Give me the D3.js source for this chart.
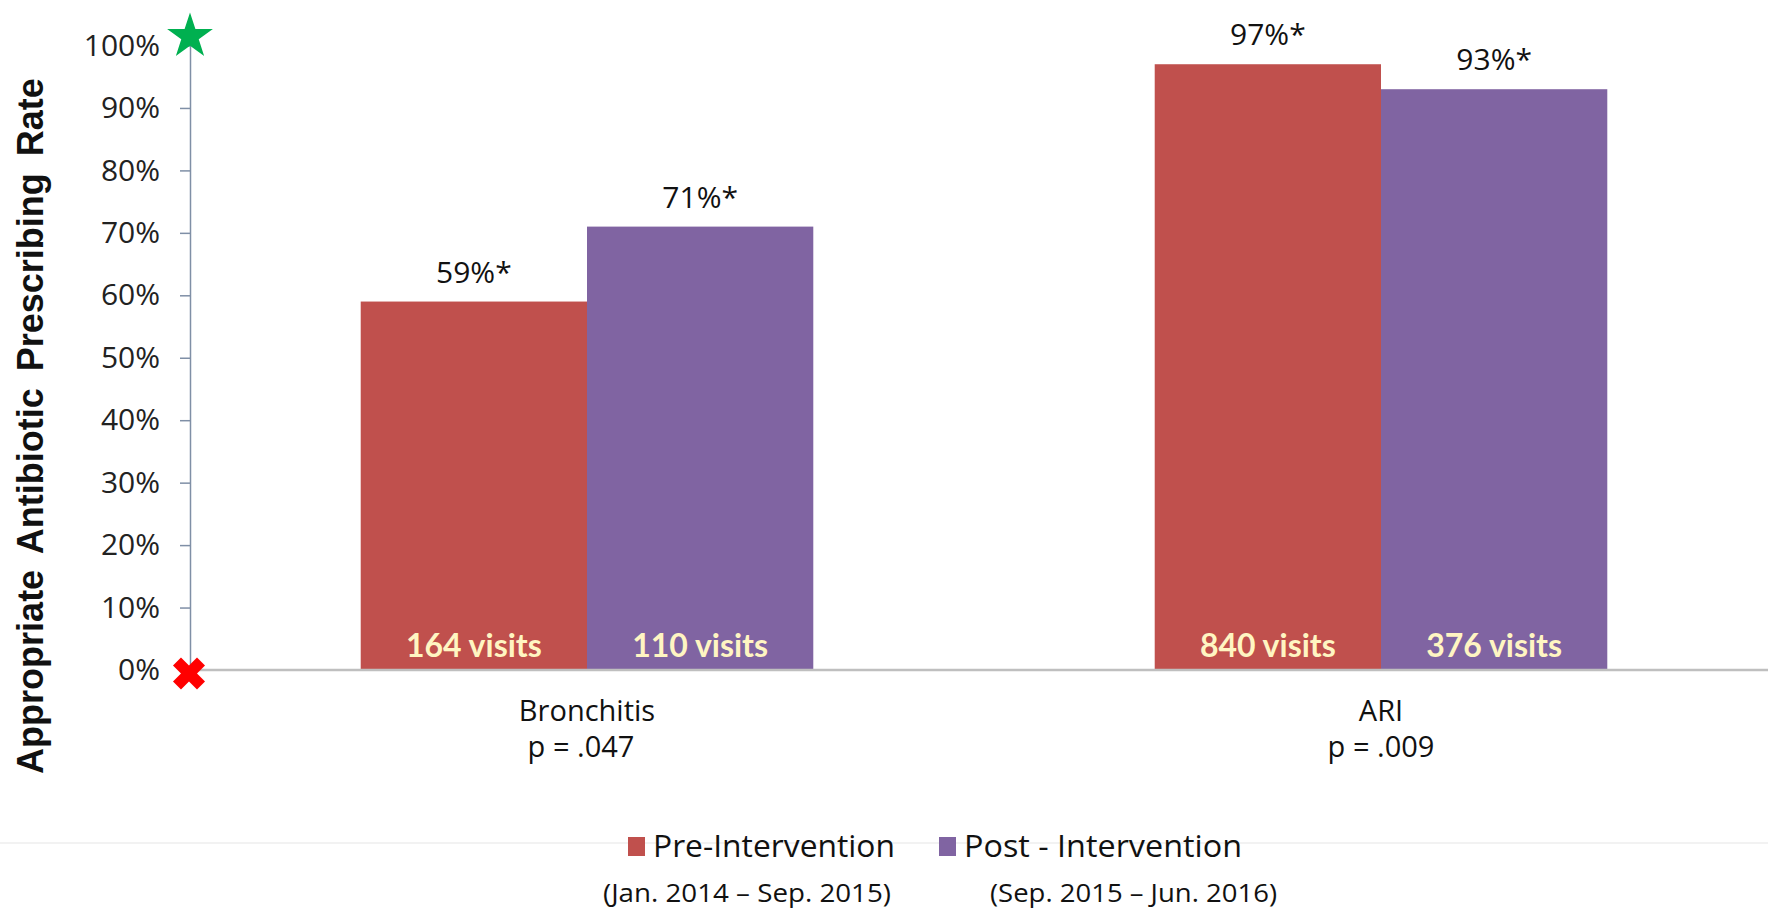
<!DOCTYPE html>
<html>
<head>
<meta charset="utf-8">
<script src="https://cdn.jsdelivr.net/npm/d3@7/dist/d3.min.js"></script>
<style>
  html, body { margin: 0; padding: 0; background: #ffffff; }
  svg { display: block; }
</style>
</head>
<body>
<svg id="chart" width="1768" height="911"></svg>
<script>
// ---- data ----
const categories = ["Bronchitis", "ARI"];
const pValues = ["p = .047", "p = .009"];
const seriesNames = ["Pre-Intervention", "Post - Intervention"];
const seriesPeriods = ["(Jan. 2014 \u2013 Sep. 2015)", "(Sep. 2015 \u2013 Jun. 2016)"];
const preValues = [0.59, 0.97];
const postValues = [0.71, 0.93];
const preVisits = [164, 840];
const postVisits = [110, 376];
const yTicks = [0, 0.1, 0.2, 0.3, 0.4, 0.5, 0.6, 0.7, 0.8, 0.9, 1.0];
const yTitle = "Appropriate Antibiotic Prescribing Rate";

// ---- styles ----
const colors = ["#C0504D", "#8064A2"];
const gothic = "'Open Sans', 'DejaVu Sans', sans-serif";
const svg = d3.select("#chart");

// ---- layout ----
const axisX = 190, baseY = 670, topY = 45.5;

const x0 = d3.scaleBand()
  .domain(categories)
  .range([axisX, axisX + 2 * 794])
  .paddingInner(0.43)
  .paddingOuter(0.215);

const x1 = d3.scaleBand()
  .domain(seriesNames)
  .range([0, x0.bandwidth()]);

const y = d3.scaleLinear().domain([0, 1]).range([baseY, topY]);

const rows = categories.map((c, i) => ({
  cat: c,
  p: pValues[i],
  bars: [
    { s: seriesNames[0], v: preValues[i], n: preVisits[i] },
    { s: seriesNames[1], v: postValues[i], n: postVisits[i] }
  ]
}));

// faint divider above the legend
svg.append("line")
  .attr("x1", 0).attr("x2", 1768)
  .attr("y1", 843).attr("y2", 843)
  .attr("stroke", "#f2f2f2").attr("stroke-width", 2);

// bars
const groups = svg.selectAll("g.cat")
  .data(rows).join("g")
  .attr("class", "cat")
  .attr("transform", d => `translate(${x0(d.cat)},0)`);

groups.selectAll("rect")
  .data(d => d.bars).join("rect")
  .attr("x", d => x1(d.s))
  .attr("width", x1.bandwidth())
  .attr("y", d => y(d.v))
  .attr("height", d => y(0) - y(d.v))
  .attr("fill", (d, i) => colors[i]);

// value labels above bars
groups.selectAll("text.val")
  .data(d => d.bars).join("text")
  .attr("class", "val")
  .attr("x", d => x1(d.s) + x1.bandwidth() / 2)
  .attr("y", d => y(d.v) - 19)
  .attr("text-anchor", "middle")
  .style("font-family", gothic)
  .style("font-size", "30px")
  .attr("fill", "#111")
  .text(d => Math.round(d.v * 100) + "%*");

// visit counts inside bars
groups.selectAll("text.n")
  .data(d => d.bars).join("text")
  .attr("class", "n")
  .attr("x", d => x1(d.s) + x1.bandwidth() / 2)
  .attr("y", 657)
  .attr("text-anchor", "middle")
  .style("font-family", "Lato, 'Open Sans', sans-serif")
  .style("font-weight", "bold")
  .style("font-size", "32px")
  .attr("fill", "#FFF5C2")
  .text(d => d.n + " visits");

// category labels and p-values
groups.append("text")
  .attr("x", x0.bandwidth() / 2)
  .attr("y", 721)
  .attr("text-anchor", "middle")
  .style("font-family", gothic)
  .style("font-size", "29px")
  .attr("fill", "#111")
  .text(d => d.cat);

groups.append("text")
  .attr("x", (d, i) => x0.bandwidth() / 2 - (i === 0 ? 6 : 0))
  .attr("y", 757)
  .attr("text-anchor", "middle")
  .style("font-family", gothic)
  .style("font-size", "29px")
  .attr("fill", "#111")
  .text(d => d.p);

// x baseline
svg.append("line")
  .attr("x1", axisX).attr("x2", 1768)
  .attr("y1", baseY).attr("y2", baseY)
  .attr("stroke", "#BFBFBF").attr("stroke-width", 2.5);

// y axis
const yAxis = d3.axisLeft(y)
  .tickValues(yTicks)
  .tickFormat(d3.format(".0%"))
  .tickSize(10)
  .tickPadding(20);

const ya = svg.append("g")
  .attr("transform", `translate(${axisX},0)`)
  .call(yAxis);
ya.select(".domain").attr("stroke", "#7F8FA6").attr("stroke-width", 1.5)
  .attr("d", `M0.5,${baseY}V${topY}`);
ya.selectAll(".tick line").attr("stroke", "#7F8FA6").attr("stroke-width", 1.5);
ya.selectAll(".tick text")
  .style("font-family", gothic)
  .style("font-size", "30px")
  .attr("fill", "#222");

// y title
svg.append("text")
  .attr("transform", `translate(43,${426}) rotate(-90)`)
  .attr("text-anchor", "middle")
  .style("font-family", "'Liberation Sans', Arial, sans-serif")
  .style("font-weight", "bold")
  .style("font-size", "36px")
  .style("word-spacing", "7px")
  .attr("fill", "#111")
  .text(yTitle);

// green star at the top of the axis, red cross at the bottom
svg.append("path")
  .attr("d", d3.symbol(d3.symbolStar, 650)())
  .attr("transform", `translate(${axisX},${y(1) - 9})`)
  .attr("fill", "#00B050");

svg.append("path")
  .attr("d", d3.symbol(d3.symbolCross, 640)())
  .attr("transform", `translate(${axisX - 1},${y(0) + 3.5}) rotate(45)`)
  .attr("fill", "#FF0000");

// legend
const legendX = [628, 939];
const legendTextW = [242, 278];
const periodX = [603, 990];
const periodW = [288, 287];

seriesNames.forEach((name, i) => {
  svg.append("rect")
    .attr("x", legendX[i]).attr("y", 837)
    .attr("width", 17).attr("height", 19)
    .attr("fill", colors[i]);
  svg.append("text")
    .attr("x", legendX[i] + 25).attr("y", 857)
    .attr("textLength", legendTextW[i])
    .attr("lengthAdjust", "spacingAndGlyphs")
    .style("font-family", gothic)
    .style("font-size", "31px")
    .attr("fill", "#111")
    .text(name);
  svg.append("text")
    .attr("x", periodX[i]).attr("y", 902)
    .attr("textLength", periodW[i])
    .attr("lengthAdjust", "spacingAndGlyphs")
    .style("font-family", gothic)
    .style("font-size", "26px")
    .attr("fill", "#111")
    .text(seriesPeriods[i]);
});
</script>
</body>
</html>
